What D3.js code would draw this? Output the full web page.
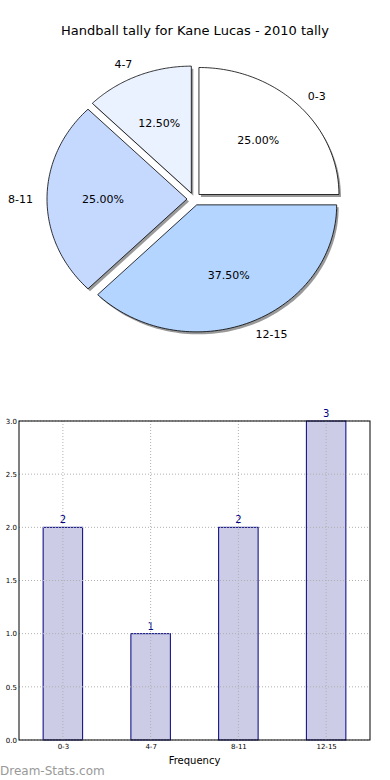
<!DOCTYPE html>
<html>
<head>
<meta charset="utf-8">
<script src="https://cdnjs.cloudflare.com/ajax/libs/d3/7.8.5/d3.min.js"></script>
<style>
  body { margin: 0; background: #fff; }
  svg { display: block; font-family: 'DejaVu Sans', sans-serif; }
</style>
</head>
<body>
<div id="chart"></div>
<script>
var title = 'Handball tally for Kane Lucas - 2010 tally'
var categories = ['0-3', '4-7', '8-11', '12-15']
var counts = [2, 1, 2, 3]
var sliceColors = ['#ffffff', '#eaf1ff', '#c5d9ff', '#b3d5ff']
var yTicks = [0, 0.5, 1, 1.5, 2, 2.5, 3]

var width = 390
var height = 780

var svg = d3.select('#chart').append('svg')
    .attr('width', width)
    .attr('height', height)

svg.append('text')
    .attr('x', 195)
    .attr('y', 35)
    .attr('text-anchor', 'middle')
    .style('font-size', '13px')
    .text(title)

// pie (elliptical, like the stretched matplotlib axes)
var cx = 194, cy = 199, rx = 140, ry = 127
var explode = 0.05
var total = d3.sum(counts)

// matplotlib style: start at 0 deg, counterclockwise
var slices = []
var start = 0
counts.forEach(function(c, i) {
    var sweep = c / total * 2 * Math.PI
    slices.push({ label: categories[i], value: c, a0: start, a1: start + sweep, color: sliceColors[i] })
    start += sweep
})

function slicePath(d, ox, oy) {
    var pts = []
    var n = 80
    for (var k = 0; k <= n; k++) {
        var a = d.a0 + (d.a1 - d.a0) * k / n
        pts.push([ox + rx * Math.cos(a), oy - ry * Math.sin(a)])
    }
    return 'M' + ox + ',' + oy + 'L' + pts.map(function(p) { return p.join(',') }).join('L') + 'Z'
}

var pie = svg.append('g').attr('class', 'pie')

slices.forEach(function(d) {
    var mid = (d.a0 + d.a1) / 2
    d.ox = cx + explode * rx * Math.cos(mid)
    d.oy = cy - explode * ry * Math.sin(mid)
    d.mid = mid
})

pie.selectAll('path.shadow')
    .data(slices)
    .enter().append('path')
    .attr('class', 'shadow')
    .attr('d', function(d) { return slicePath(d, d.ox + 2, d.oy + 2.5) })
    .attr('fill', '#808080')
    .attr('fill-opacity', 0.8)

pie.selectAll('path.slice')
    .data(slices)
    .enter().append('path')
    .attr('class', 'slice')
    .attr('d', function(d) { return slicePath(d, d.ox, d.oy) })
    .attr('fill', function(d) { return d.color })
    .attr('stroke', '#000')
    .attr('stroke-width', 0.8)

pie.selectAll('text.label')
    .data(slices)
    .enter().append('text')
    .attr('class', 'label')
    .attr('x', function(d) { return cx + 1.15 * rx * Math.cos(d.mid) })
    .attr('y', function(d) { return cy - 1.15 * ry * Math.sin(d.mid) })
    .attr('dy', '0.35em')
    .attr('text-anchor', function(d) { return Math.cos(d.mid) > 0 ? 'start' : 'end' })
    .style('font-size', '11px')
    .text(function(d) { return d.label })

pie.selectAll('text.pct')
    .data(slices)
    .enter().append('text')
    .attr('class', 'pct')
    .attr('x', function(d) { return cx + 0.65 * rx * Math.cos(d.mid) })
    .attr('y', function(d) { return cy - 0.65 * ry * Math.sin(d.mid) })
    .attr('dy', '0.35em')
    .attr('text-anchor', 'middle')
    .style('font-size', '11px')
    .text(function(d) { return (d.value / total * 100).toFixed(2) + '%' })

// bar chart
var plotLeft = 19, plotRight = 370, plotTop = 421, plotBottom = 740

var x = d3.scaleLinear()
    .domain([-0.5, categories.length - 0.5])
    .range([plotLeft, plotRight])

var y = d3.scaleLinear()
    .domain([0, 3])
    .range([plotBottom, plotTop])

var barW = 0.45

var bars = svg.append('g').attr('class', 'bars')

bars.selectAll('rect')
    .data(counts)
    .enter().append('rect')
    .attr('x', function(d, i) { return x(i - barW / 2) })
    .attr('y', function(d) { return y(d) })
    .attr('width', x(barW) - x(0))
    .attr('height', function(d) { return y(0) - y(d) })
    .attr('fill', '#ccccE6')
    .attr('stroke', '#000080')
    .attr('stroke-width', 1)

// grid on top of bars
var grid = svg.append('g').attr('class', 'grid')
grid.selectAll('line.h')
    .data(yTicks)
    .enter().append('line')
    .attr('x1', plotLeft).attr('x2', plotRight)
    .attr('y1', function(d) { return y(d) })
    .attr('y2', function(d) { return y(d) })
    .attr('stroke', '#b0b0b0')
    .attr('stroke-dasharray', '1,2')
grid.selectAll('line.v')
    .data(categories)
    .enter().append('line')
    .attr('y1', plotTop).attr('y2', plotBottom)
    .attr('x1', function(d, i) { return x(i) })
    .attr('x2', function(d, i) { return x(i) })
    .attr('stroke', '#b0b0b0')
    .attr('stroke-dasharray', '1,2')

bars.selectAll('text')
    .data(counts)
    .enter().append('text')
    .attr('x', function(d, i) { return x(i) })
    .attr('y', function(d) { return y(d) - 4 })
    .attr('text-anchor', 'middle')
    .attr('fill', '#000080')
    .style('font-size', '10px')
    .text(function(d) { return d })

svg.append('rect')
    .attr('x', plotLeft).attr('y', plotTop)
    .attr('width', plotRight - plotLeft).attr('height', plotBottom - plotTop)
    .attr('fill', 'none')
    .attr('stroke', '#000')
    .attr('stroke-width', 1)

var yAxis = d3.axisLeft(y)
    .tickValues(yTicks)
    .tickFormat(d3.format('.1f'))
    .tickSize(0)
    .tickPadding(2)

svg.append('g')
    .attr('transform', 'translate(' + plotLeft + ',0)')
    .call(yAxis)
    .call(function(g) { g.select('.domain').remove() })
    .selectAll('text')
    .style('font-size', '7px')
    .style('font-family', 'DejaVu Sans, sans-serif')

var xAxis = d3.axisBottom(x)
    .tickValues(d3.range(categories.length))
    .tickFormat(function(i) { return categories[i] })
    .tickSize(0)
    .tickPadding(4)

svg.append('g')
    .attr('transform', 'translate(0,' + plotBottom + ')')
    .call(xAxis)
    .call(function(g) { g.select('.domain').remove() })
    .selectAll('text')
    .style('font-size', '7px')
    .style('font-family', 'DejaVu Sans, sans-serif')

svg.append('text')
    .attr('x', (plotLeft + plotRight) / 2)
    .attr('y', 764)
    .attr('text-anchor', 'middle')
    .style('font-size', '10px')
    .text('Frequency')

svg.append('text')
    .attr('x', 0)
    .attr('y', 775)
    .attr('fill', '#999')
    .style('font-size', '12px')
    .text('Dream-Stats.com')
</script>
</body>
</html>
